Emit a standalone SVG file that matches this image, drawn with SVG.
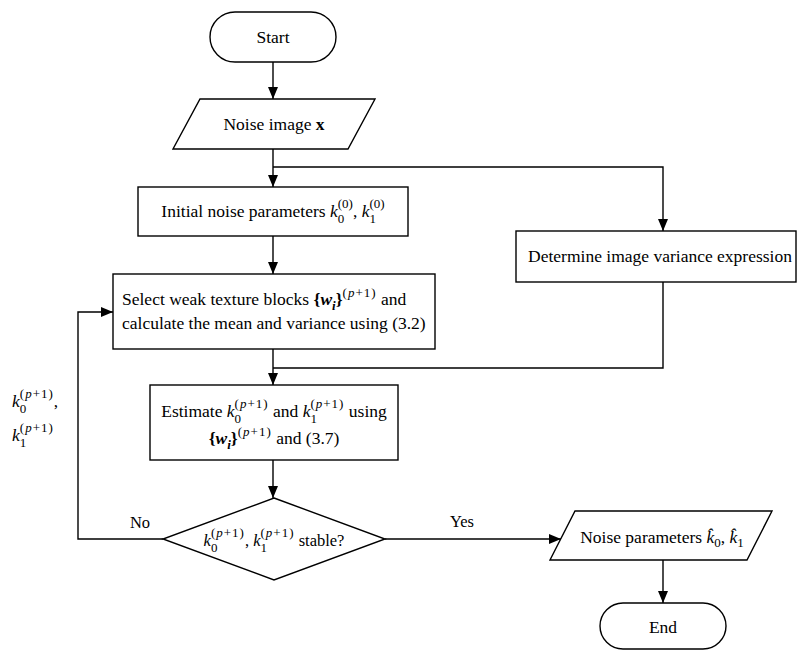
<svg xmlns="http://www.w3.org/2000/svg" width="800" height="650" viewBox="0 0 800 650">
<style>
text{font-family:"Liberation Serif","Times New Roman",serif;font-size:17.5px;fill:#000}
.it{font-style:italic}
.b{font-weight:bold}
.bi{font-weight:bold;font-style:italic}
.s{font-size:13px}
.sp{font-size:13px;letter-spacing:1px}
.shape{fill:#fff;stroke:#000;stroke-width:1.4}
.conn path{fill:none;stroke:#000;stroke-width:1.4}
.lbl{font-size:16.5px}
</style>
<defs>
<marker id="arr" markerWidth="12" markerHeight="10" refX="12" refY="5" orient="auto" markerUnits="userSpaceOnUse">
<path d="M0,0 L12,5 L0,10 z" fill="#000"/>
</marker>
</defs>
<g class="conn" id="connectors">
<path d="M273,62 V99" marker-end="url(#arr)"/>
<path d="M273,149 V187" marker-end="url(#arr)"/>
<path d="M273,167 H663 V231" marker-end="url(#arr)"/>
<path d="M273,236 V274" marker-end="url(#arr)"/>
<path d="M273,349 V385" marker-end="url(#arr)"/>
<path d="M663,282 V368 H273"/>
<path d="M273,460 V498" marker-end="url(#arr)"/>
<path d="M163,539 H78 V312 H113" marker-end="url(#arr)"/>
<path d="M385,539 H561" marker-end="url(#arr)"/>
<path d="M663,560 V603" marker-end="url(#arr)"/>
</g>
<g id="start">
<rect class="shape" x="210" y="12" width="126" height="50" rx="25"/>
<text x="273" y="43" text-anchor="middle">Start</text>
</g>
<g id="noise-image">
<path class="shape" d="M200,99 H375 L348,149 H173 Z"/>
<text x="274" y="130" text-anchor="middle">Noise image <tspan class="b">x</tspan></text>
</g>
<g id="initial">
<rect class="shape" x="138" y="187" width="270" height="49"/>
<text x="273" y="217" text-anchor="middle">Initial noise parameters <tspan class="it">k</tspan><tspan class="s" dy="6">0</tspan><tspan class="s" dx="-6.5" dy="-15">(0)</tspan><tspan dy="9">,  </tspan><tspan class="it">k</tspan><tspan class="s" dy="6">1</tspan><tspan class="s" dx="-6.5" dy="-15">(0)</tspan></text>
</g>
<g id="determine">
<rect class="shape" x="516" y="231" width="280" height="51"/>
<text x="660" y="262" text-anchor="middle">Determine image variance expression</text>
</g>
<g id="select">
<rect class="shape" x="113" y="274" width="322" height="75"/>
<text x="122" y="305">Select weak texture blocks <tspan class="b">{</tspan><tspan class="bi">w</tspan><tspan class="s bi" dy="5">i</tspan><tspan class="b" dy="-5">}</tspan><tspan class="sp" dy="-8">(<tspan class="it">p</tspan>+1)</tspan><tspan dy="8">  and</tspan></text>
<text x="122" y="329">calculate the mean and variance using (3.2)</text>
</g>
<g id="estimate">
<rect class="shape" x="150" y="385" width="248" height="75"/>
<text x="274" y="417" text-anchor="middle">Estimate <tspan class="it">k</tspan><tspan class="s" dy="6">0</tspan><tspan class="sp" dx="-6.5" dy="-15">(<tspan class="it">p</tspan>+1)</tspan><tspan dy="9">  and </tspan><tspan class="it">k</tspan><tspan class="s" dy="6">1</tspan><tspan class="sp" dx="-6.5" dy="-15">(<tspan class="it">p</tspan>+1)</tspan><tspan dy="9">  using</tspan></text>
<text x="274" y="444" text-anchor="middle"><tspan class="b">{</tspan><tspan class="bi">w</tspan><tspan class="s bi" dy="5">i</tspan><tspan class="b" dy="-5">}</tspan><tspan class="sp" dy="-8">(<tspan class="it">p</tspan>+1)</tspan><tspan dy="8">  and (3.7)</tspan></text>
</g>
<g id="decision">
<path class="shape" d="M274,498 L385,539 L274,580 L163,539 Z"/>
<text x="274" y="546" text-anchor="middle" class="lbl"><tspan class="it">k</tspan><tspan class="s" dy="6">0</tspan><tspan class="sp" dx="-6.5" dy="-15">(<tspan class="it">p</tspan>+1)</tspan><tspan dy="9">, </tspan><tspan class="it">k</tspan><tspan class="s" dy="6">1</tspan><tspan class="sp" dx="-6.5" dy="-15">(<tspan class="it">p</tspan>+1)</tspan><tspan dy="9">  stable?</tspan></text>
</g>
<g id="loop-label">
<text x="12" y="407"><tspan class="it">k</tspan><tspan class="s" dy="6">0</tspan><tspan class="sp" dx="-6.5" dy="-15">(<tspan class="it">p</tspan>+1)</tspan><tspan dy="9">,</tspan></text>
<text x="12" y="441"><tspan class="it">k</tspan><tspan class="s" dy="6">1</tspan><tspan class="sp" dx="-6.5" dy="-15">(<tspan class="it">p</tspan>+1)</tspan></text>
</g>
<g id="edge-labels">
<text x="140" y="528" text-anchor="middle" class="lbl">No</text>
<text x="462" y="527" text-anchor="middle" class="lbl">Yes</text>
</g>
<g id="noise-params">
<path class="shape" d="M575,511 H772 L747,560 H550 Z"/>
<text x="662" y="543" text-anchor="middle">Noise parameters <tspan class="it">k&#x302;</tspan><tspan class="s" dy="4">0</tspan><tspan dy="-4">, </tspan><tspan class="it">k&#x302;</tspan><tspan class="s" dy="4">1</tspan></text>
</g>
<g id="end">
<rect class="shape" x="600" y="603" width="126" height="46" rx="23"/>
<text x="663" y="633" text-anchor="middle">End</text>
</g>
</svg>
